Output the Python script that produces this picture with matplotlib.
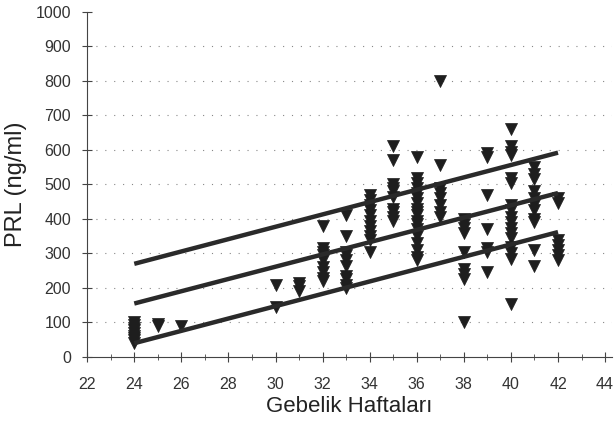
import numpy as np
import matplotlib
matplotlib.use('Agg')
import matplotlib.pyplot as plt
from matplotlib.ticker import MultipleLocator

plt.rcParams['font.family'] = ['Liberation Sans', 'DejaVu Sans']

week = ([24] * 9 + [25] * 2 + [26] + [30] * 2 + [31] * 3 + [32] * 9 + [33] * 10 +
        [34] * 11 + [35] * 10 + [36] * 18 + [37] * 8 + [38] * 9 + [39] * 7 +
        [40] * 17 + [41] * 11 + [42] * 7)
prl = [100, 92, 85, 78, 70, 62, 55, 48, 42,
       95, 90,
       90,
       210, 145,
       215, 205, 190,
       380, 315, 305, 295, 280, 260, 245, 230, 220,
       410, 350, 305, 295, 280, 265, 235, 225, 210, 200,
       470, 455, 440, 425, 410, 395, 380, 365, 350, 340, 305,
       610, 570, 500, 490, 480, 465, 430, 420, 405, 395,
       580, 520, 505, 490, 475, 460, 445, 430, 420, 410, 395, 385, 370, 350, 330, 310, 290, 280,
       800, 555, 490, 475, 460, 440, 420, 405,
       400, 385, 375, 360, 305, 255, 240, 225, 100,
       590, 580, 470, 370, 315, 305, 245,
       660, 610, 595, 585, 520, 505, 440, 425, 405, 390, 375, 360, 345, 320, 300, 285, 155,
       550, 530, 515, 480, 460, 440, 425, 400, 390, 310, 265,
       460, 445, 340, 325, 310, 295, 280]

# reference lines (end points)
line_weeks = [24, 42]
upper_line = [270, 592]
middle_line = [155, 475]
lower_line = [40, 362]

fig = plt.figure(figsize=(6.14, 4.23), dpi=100)
ax = fig.add_axes([0.142, 0.156, 0.855, 0.816])

# faint dotted horizontal grid
for yv in range(100, 1000, 100):
    ax.axhline(yv, color='#888888', lw=0.8, ls=(0, (1, 7)), zorder=0)

ax.scatter(week, prl, marker='v', s=75, color='#1e1e1e', edgecolors='#1e1e1e',
           linewidths=0.5, zorder=3)

for ys in (upper_line, middle_line, lower_line):
    ax.plot(line_weeks, ys, color='#2a2a2a', lw=3.2, solid_capstyle='butt', zorder=4)

ax.set_xlim(22, 44.3)
ax.set_ylim(0, 1000)
ax.xaxis.set_major_locator(MultipleLocator(2))
ax.xaxis.set_minor_locator(MultipleLocator(1))
ax.yaxis.set_major_locator(MultipleLocator(100))

for side in ('top', 'right'):
    ax.spines[side].set_visible(False)
for side in ('left', 'bottom'):
    ax.spines[side].set_color('#444444')
    ax.spines[side].set_linewidth(0.8)

ax.tick_params(axis='both', which='major', direction='inout', length=7, width=0.8,
               color='#444444', labelsize=11.5, labelcolor='#333333')
ax.tick_params(axis='x', which='major', pad=11)
ax.tick_params(axis='y', which='major', pad=8)
ax.tick_params(axis='x', which='minor', direction='inout', length=4, width=0.6,
               color='#444444')

ax.set_xlabel('Gebelik Haftaları', fontsize=16, color='#222222', labelpad=3)
ax.set_ylabel('PRL (ng/ml)', fontsize=17, color='#222222', labelpad=6)

fig.savefig('out.png', dpi=100)
